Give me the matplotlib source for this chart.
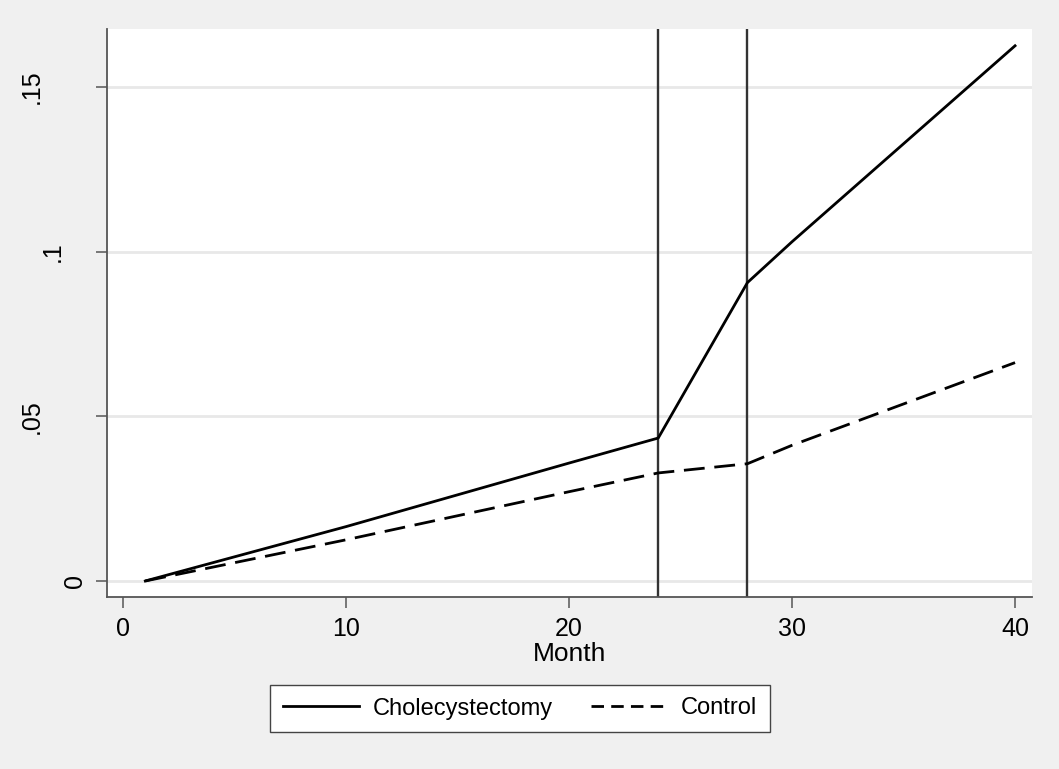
import matplotlib
matplotlib.use("Agg")
import matplotlib.pyplot as plt
from matplotlib.lines import Line2D
from matplotlib.transforms import blended_transform_factory, offset_copy

# Data
months = [1, 10, 20, 24, 28, 30, 40]
chole = [0.0, 0.0165, 0.0358, 0.0434, 0.0906, 0.1030, 0.1625]
control = [0.0, 0.0125, 0.0271, 0.0328, 0.0356, 0.0412, 0.0663]
vlines = [24, 28]
yticks = [0, 0.05, 0.1, 0.15]
ytick_labels = ["0", ".05", ".1", ".15"]
xticks = [0, 10, 20, 30, 40]

BG = "#F0F0F0"
GRID = "#E8E8E8"
AXIS = "#555555"
FS = 18

# Stata offsets its rotated y labels by label length (px gap from spine)
ylabel_gap = {"0": 20, ".05": 63, ".1": 42, ".15": 63}

plt.rcParams["font.family"] = ["Liberation Sans", "DejaVu Sans"]

fig = plt.figure(figsize=(10.59, 7.69), dpi=100, facecolor=BG)
ax = fig.add_axes([0.101, 0.2237, 0.8735, 0.7386])
ax.set_facecolor("white")

for y in yticks:
    ax.axhline(y, color=GRID, lw=2, zorder=0)
for v in vlines:
    ax.axvline(v, color="#333333", lw=1.7, zorder=2)

ax.plot(months, chole, color="black", lw=2.0, zorder=3)
ax.plot(months, control, color="black", lw=2.0, dashes=(7.5, 3.5), zorder=3)

ax.set_xlim(-0.72, 40.76)
ax.set_ylim(-0.00486, 0.1676)

ax.set_yticks(yticks)
ax.set_yticklabels([])
ax.set_xticks(xticks)

trans = blended_transform_factory(ax.transAxes, ax.transData)
for val, lab in zip(yticks, ytick_labels):
    t = offset_copy(trans, fig=fig, x=-ylabel_gap[lab], y=0, units="dots")
    ax.text(0, val, lab, transform=t, rotation=90, ha="right", va="center",
            fontsize=FS)

for side in ["top", "right"]:
    ax.spines[side].set_visible(False)
for side in ["left", "bottom"]:
    ax.spines[side].set_color(AXIS)
    ax.spines[side].set_linewidth(1.3)

ax.tick_params(axis="both", direction="out", length=8, width=1.1,
               color=AXIS, labelsize=FS, labelcolor="black", pad=6.5)

ax.set_xlabel("Month", fontsize=19, labelpad=0.5)

handles = [Line2D([], [], color="black", lw=2.0),
           Line2D([], [], color="black", lw=2.0, dashes=(4.5, 2.6))]
fig.legend(handles, ["Cholecystectomy", "Control"],
           loc="center", bbox_to_anchor=(520 / 1059, 1 - 708.5 / 769),
           ncol=2, fontsize=17, frameon=True, fancybox=False,
           edgecolor="#444444", facecolor="white", framealpha=1,
           handlelength=3.2, handletextpad=0.6, columnspacing=1.6,
           borderpad=0.55, borderaxespad=0)
fig.legends[0].get_frame().set_linewidth(1.0)

fig.savefig("out.png", dpi=100, facecolor=BG)
